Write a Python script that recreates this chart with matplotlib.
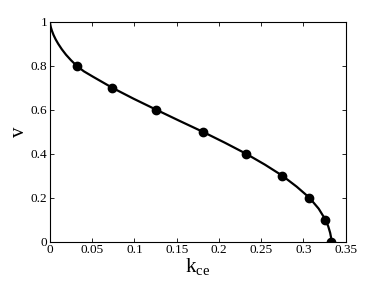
import matplotlib
matplotlib.use('Agg')
import matplotlib.pyplot as plt

# ── DATA ──────────────────────────────────────────────────────────────────────
v_marks = [0.8, 0.7, 0.6, 0.5, 0.4, 0.3, 0.2, 0.1, 0.0]
k_marks = [0.0316, 0.0737, 0.1258, 0.1807, 0.232, 0.275, 0.307, 0.326, 0.333]

v_line = [1.0, 0.99, 0.975, 0.96, 0.94, 0.92, 0.9, 0.875, 0.85, 0.825, 0.8,
          0.775, 0.75, 0.7, 0.65, 0.6, 0.55, 0.5, 0.45, 0.4, 0.35, 0.3, 0.25,
          0.2, 0.15, 0.1, 0.07, 0.04, 0.02, 0.0]
k_line = [0.0, 0.0002, 0.0010, 0.0022, 0.0042, 0.0067, 0.0097, 0.0140, 0.0190,
          0.0249, 0.0316, 0.0400, 0.0510, 0.0737, 0.0990, 0.1258, 0.1530, 0.1807,
          0.2070, 0.232, 0.2545, 0.275, 0.2920, 0.307, 0.3180, 0.326, 0.3293,
          0.3316, 0.3326, 0.333]

xticks = [0, 0.05, 0.1, 0.15, 0.2, 0.25, 0.3, 0.35]
xticklabels = ["0", "0.05", "0.1", "0.15", "0.2", "0.25", "0.3", "0.35"]
yticks = [0, 0.2, 0.4, 0.6, 0.8, 1.0]
yticklabels = ["0", "0.2", "0.4", "0.6", "0.8", "1"]

# ── PLOT ──────────────────────────────────────────────────────────────────────
plt.rcParams['font.family'] = ['Liberation Serif', 'DejaVu Serif']
plt.rcParams['mathtext.fontset'] = 'custom'
plt.rcParams['mathtext.rm'] = 'Liberation Serif'

fig = plt.figure(figsize=(3.82, 2.87), dpi=100)
ax = fig.add_axes([0.1309, 0.158, 0.7741, 0.766])

ax.plot(k_line, v_line, color='black', lw=1.6)
ax.plot(k_marks, v_marks, 'o', color='black', ms=6)

ax.set_xlim(0, 0.35)
ax.set_ylim(0, 1)
ax.set_xticks(xticks)
ax.set_xticklabels(xticklabels)
ax.set_yticks(yticks)
ax.set_yticklabels(yticklabels)
ax.tick_params(direction='in', top=True, right=True, labelsize=9.5, length=3, width=0.6, pad=2)
for s in ax.spines.values():
    s.set_linewidth(0.8)

ax.set_xlabel(r"k$_{\mathrm{ce}}$", fontsize=15, labelpad=0)
ax.set_ylabel("v", fontsize=15, labelpad=1.5)

plt.savefig("out.png", dpi=100)
plt.close()
